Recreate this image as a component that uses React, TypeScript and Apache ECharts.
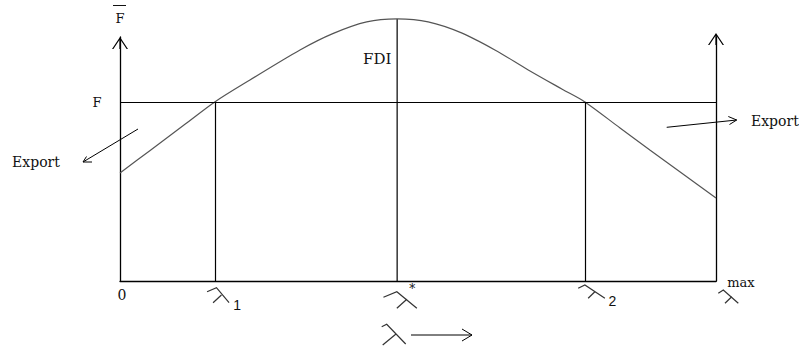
import React, { useEffect, useRef } from "react";
import * as echarts from "echarts";

// ---- data ----
const curveX = [0, 5.0, 10.9, 15.9, 21.8, 30.2, 35.7, 41.4, 46.5, 51.7, 57.4, 62.9, 68.5, 74.2, 78.0, 83.9, 88.9, 94.8, 100];
const curveY = [44.3, 53.4, 64.2, 73.4, 82.4, 94.7, 101.4, 106.2, 107.4, 106.2, 101.6, 94.7, 86.5, 78.6, 73.4, 62.7, 53.7, 43.2, 34.0];
const fLevel = 73.4;
const lambda1 = 15.9;
const lambdaStar = 46.5;
const lambda2 = 78.0;
const lambdaMax = 100;
const fdiPeak = 107.4;
const axisMin = 0;
const axisMax = 100;

const curveData = curveX.map((x, i) => [x, curveY[i]]);
const fdiDrop = [[lambdaStar, axisMin], [lambdaStar, fdiPeak]];

const ARROW = "path://M8,0 L16,12 L14.6,12 L8.6,3 L8.6,12 L7.4,12 L7.4,3 L1.4,12 L0,12 Z";
const SERIF = "'DejaVu Serif', serif";
const SANS = "'Liberation Sans', Arial, sans-serif";
const INK = "#000";
const TEXT = "#111";
const GLYPH = "#333";

function txt(text: string, x: number, y: number, font: string, align = "center") {
  return {
    type: "text",
    x,
    y,
    silent: true,
    style: {
      text,
      font,
      fill: TEXT,
      align,
      verticalAlign: "middle",
      textAlign: align,
      textVerticalAlign: "middle",
    },
  };
}

function seg(points: number[][], width = 1.1, color = INK) {
  return {
    type: "polyline",
    silent: true,
    shape: { points },
    style: { stroke: color, lineWidth: width, fill: null },
  };
}

function lambdaGlyph(x: number, y: number, hook: number[], end: number[], legA: number[], legB: number[]) {
  return {
    type: "group",
    x,
    y,
    silent: true,
    children: [seg([hook, [0, 0], end], 1.2, GLYPH), seg([legA, legB], 1.2, GLYPH)],
  };
}

function yAxisCfg(position: string, offsetEnd: number) {
  return {
    type: "value",
    position,
    min: axisMin,
    max: axisMax,
    axisLine: {
      show: true,
      onZero: false,
      symbol: ["none", ARROW],
      symbolSize: [16, 12],
      symbolOffset: [0, offsetEnd],
      lineStyle: { color: INK, width: 1.3 },
    },
    axisTick: { show: false },
    axisLabel: { show: false },
    splitLine: { show: false },
  };
}

export default function App() {
  const ref = useRef<HTMLDivElement>(null);

  useEffect(() => {
    if (!ref.current) return;
    const chart = echarts.init(ref.current, null, { renderer: "svg" });
    chart.setOption({
      animation: false,
      backgroundColor: "#fff",
      grid: { left: 120, right: 83, top: 37, bottom: 69, containLabel: false },
      xAxis: {
        type: "value",
        min: axisMin,
        max: lambdaMax,
        axisLine: { show: true, lineStyle: { color: INK, width: 1.3 } },
        axisTick: { show: false },
        axisLabel: { show: false },
        splitLine: { show: false },
      },
      yAxis: [yAxisCfg("left", -6), yAxisCfg("right", -2)],
      series: [
        {
          type: "line",
          data: curveData,
          smooth: 0.3,
          symbol: "none",
          showSymbol: false,
          clip: false,
          silent: true,
          z: 3,
          lineStyle: { color: "#555", width: 1.2 },
          markLine: {
            silent: true,
            symbol: ["none", "none"],
            label: { show: false },
            emphasis: { disabled: true },
            lineStyle: { color: INK, width: 1.2, type: "solid" },
            data: [
              [{ coord: [axisMin, fLevel] }, { coord: [lambdaMax, fLevel] }],
              [{ coord: [lambda1, axisMin] }, { coord: [lambda1, fLevel] }],
              [{ coord: [lambda2, axisMin] }, { coord: [lambda2, fLevel] }],
            ],
          },
        },
        {
          type: "line",
          data: fdiDrop,
          symbol: "none",
          showSymbol: false,
          clip: false,
          silent: true,
          z: 2,
          lineStyle: { color: INK, width: 1.2 },
        },
      ],
    });

    const px = (x: number, y: number) => chart.convertToPixel({ gridIndex: 0 }, [x, y]) as number[];
    const o = px(axisMin, 0);
    const l1 = px(lambda1, 0);
    const ls = px(lambdaStar, 0);
    const l2 = px(lambda2, 0);
    const lm = px(lambdaMax, 0);
    const fPt = px(axisMin, fLevel);
    const peak = px(lambdaStar, fdiPeak);
    const top = px(axisMin, axisMax);

    const elements: any[] = [
      // F-bar label on top of the left axis
      txt("F", o[0], top[1] - 19, `13px ${SERIF}`),
      {
        type: "line",
        silent: true,
        shape: { x1: o[0] - 7, y1: top[1] - 31.5, x2: o[0] + 6, y2: top[1] - 31.5 },
        style: { stroke: TEXT, lineWidth: 1 },
      },
      txt("F", o[0] - 23, fPt[1] + 1, `13px ${SERIF}`),
      txt("FDI", ls[0] - 20, peak[1] + 40, `15px ${SERIF}`),
      txt("Export", 36, 162, `14px ${SERIF}`),
      txt("Export", 751, 121, `14px ${SERIF}`, "left"),
      // export arrows
      seg([[138, 129], [83, 162]], 1),
      seg([[86.5, 156.5], [83, 162], [92, 162]], 1),
      seg([[666.7, 127.3], [736.7, 120]], 1),
      seg([[728.3, 116.5], [736.7, 120], [729.5, 124.5]], 1),
      // axis labels
      txt("0", o[0] + 2, o[1] + 14, `14px ${SERIF}`),
      lambdaGlyph(l1[0] + 1.7, l1[1] + 6.7, [-9.4, 4], [12.6, 15], [5, 7.3], [-3.4, 15]),
      txt("1", l1[0] + 22.5, l1[1] + 24, `14px ${SANS}`),
      lambdaGlyph(ls[0] - 0.3, ls[1] + 10.7, [-13.4, 5.6], [20, 16.6], [10, 7.6], [0, 16.6]),
      txt("*", ls[0] + 15, ls[1] + 8, `12px ${SERIF}`),
      lambdaGlyph(l2[0], l2[1] + 4, [-6.7, 3.3], [20, 13.3], [10, 6.7], [3.3, 13.3]),
      txt("2", l2[0] + 27.5, l2[1] + 20, `14px ${SANS}`),
      txt("max", lm[0] + 25, lm[1] + 1, `13px ${SERIF}`),
      lambdaGlyph(lm[0] + 7.3, lm[1] + 9, [-5, 3.3], [15, 13.3], [8.4, 6.7], [1.7, 13.3]),
      // lambda --> below
      lambdaGlyph(386.7, 324.3, [-5, 2.4], [19, 19.7], [9.3, 9.7], [-4, 20.7]),
      seg([[411, 335], [472, 335]], 1),
      seg([[462, 329], [472, 335], [462, 341]], 1),
    ];

    chart.setOption({ graphic: { elements } });

    return () => chart.dispose();
  }, []);

  return (
    <div
      ref={ref}
      style={{ position: "fixed", left: 0, top: 0, width: 799, height: 350, background: "#fff" }}
    />
  );
}
